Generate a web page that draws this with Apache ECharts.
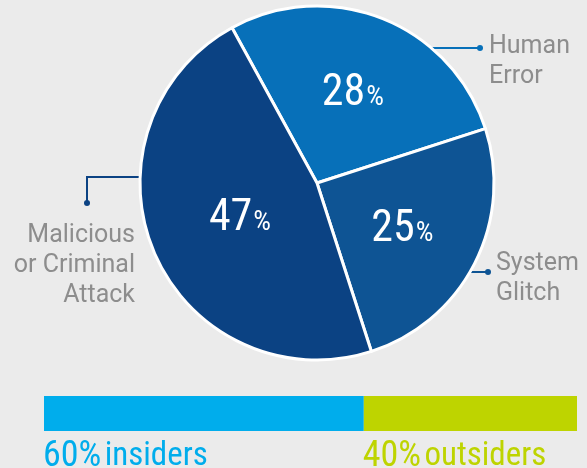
<!DOCTYPE html>
<html><head><meta charset="utf-8">
<script src="https://cdn.jsdelivr.net/npm/echarts@6/dist/echarts.min.js"></script>
<style>html,body{margin:0;padding:0;background:#ebebeb;}#c{width:587px;height:468px;}</style>
</head><body><div id="c"></div>
<script>
var categories = ['Human\nError', 'System\nGlitch', 'Malicious\nor Criminal\nAttack'];
var shares = [28, 25, 47];
var sliceColors = ['#0770b9', '#0e5494', '#0b4283'];
var groups = ['insiders', 'outsiders'];
var groupShares = [60, 40];
var groupColors = ['#00adec', '#bed400'];

var NARROW = "'Roboto Condensed','Liberation Sans Narrow','DejaVu Sans Condensed',sans-serif";
var center = [317, 183], R = 177;

var pieData = categories.map(function (c, i) {
  return { name: c, value: shares[i], itemStyle: { color: sliceColors[i] } };
});

// inner label nudges
var innerShift = [[2, -4], [4, 5], [7, 0]];
// outside label layout (text anchor and elbow leader)
var outer = [
  { x: 489, y: 32, align: 'left', pts: [[432, 48], [480, 48]] },
  { x: 496, y: 249, align: 'left', pts: [[470, 272], [488, 272]] },
  { x: 135, y: 221, align: 'right', pts: [[140, 177], [87, 177], [87, 203]] }
];

var chart = echarts.init(document.getElementById('c'), null, { renderer: 'canvas' });
chart.setOption({
  backgroundColor: '#ebebeb',
  animation: false,
  grid: { left: 44, right: 10, top: 396, height: 35 },
  xAxis: { type: 'value', min: 0, max: 100, show: false },
  yAxis: { type: 'category', data: ['share'], show: false },
  series: [
    {
      type: 'pie', center: center, radius: R, startAngle: 118.7, clockwise: true,
      data: pieData,
      itemStyle: { borderColor: '#ffffff', borderWidth: 3 },
      label: {
        show: true, position: 'inside',
        formatter: function (p) { return '{n|' + p.value + '}{p|%}'; },
        rich: {
          n: { fontFamily: NARROW, fontSize: 44, color: '#fff', fontWeight: 'normal' },
          p: { fontFamily: NARROW, fontSize: 28, color: '#fff', fontWeight: 'normal', padding: [8, 0, 0, 1] }
        }
      },
      labelLayout: function (p) {
        var s = innerShift[p.dataIndex];
        return { dx: s[0], dy: s[1] };
      },
      labelLine: { show: false },
      emphasis: { disabled: true }
    },
    {
      type: 'pie', center: center, radius: R, startAngle: 118.7, clockwise: true, silent: true,
      data: pieData.map(function (d, i) {
        return { name: d.name, value: d.value, itemStyle: { color: 'rgba(0,0,0,0)' },
                 labelLine: { lineStyle: { color: sliceColors[i] } } };
      }),
      itemStyle: { borderWidth: 0 },
      label: {
        show: true, position: 'outside', formatter: '{b}', overflow: 'none', width: 200,
        fontFamily: "Roboto, 'Noto Sans', sans-serif", fontSize: 25, lineHeight: 30, color: '#8d8d8d'
      },
      labelLine: { show: true, lineStyle: { width: 2 } },
      labelLayout: function (p) {
        var o = outer[p.dataIndex];
        return { x: o.x, y: o.y, align: o.align, verticalAlign: 'top', labelLinePoints: o.pts };
      },
      emphasis: { disabled: true }
    },
    {
      type: 'bar', stack: 'g', barWidth: 35, data: [groupShares[0]],
      itemStyle: { color: groupColors[0] },
      label: {
        show: true, position: [-1, 61], align: 'left', verticalAlign: 'middle',
        formatter: '{a|' + groupShares[0] + '%} {b|' + groups[0] + '}',
        rich: {
          a: { fontFamily: NARROW, fontSize: 36, color: groupColors[0] },
          b: { fontFamily: NARROW, fontSize: 33, color: groupColors[0] }
        }
      }
    },
    {
      type: 'bar', stack: 'g', barWidth: 35, data: [groupShares[1]],
      itemStyle: { color: groupColors[1] },
      label: {
        show: true, position: [-1, 61], align: 'left', verticalAlign: 'middle',
        formatter: '{a|' + groupShares[1] + '%} {b|' + groups[1] + '}',
        rich: {
          a: { fontFamily: NARROW, fontSize: 36, color: groupColors[1] },
          b: { fontFamily: NARROW, fontSize: 33, color: groupColors[1] }
        }
      }
    }
  ],
  graphic: outer.map(function (o, i) {
    var e = o.pts[o.pts.length - 1];
    return { type: 'circle', shape: { cx: e[0], cy: e[1], r: 3 }, style: { fill: sliceColors[i] }, z: 100 };
  })
});
</script></body></html>
